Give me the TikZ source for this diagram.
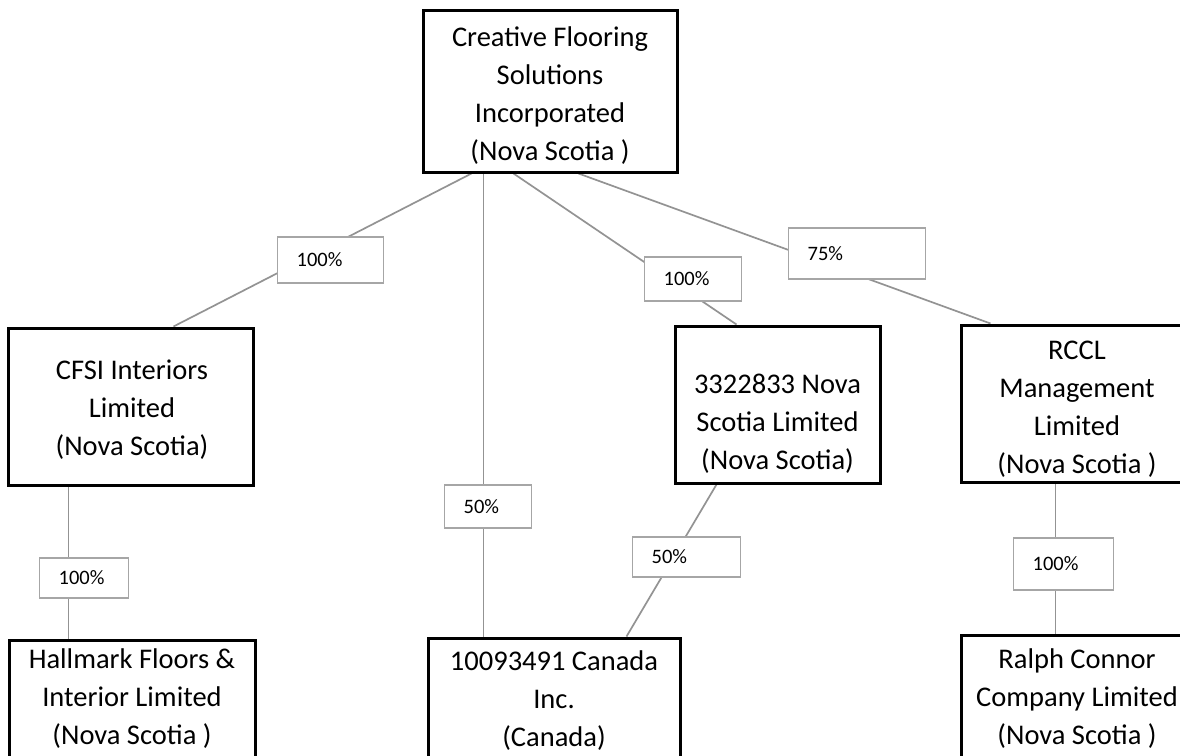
\documentclass[tikz,border=0pt]{standalone}
\usepackage{fontspec}
\setmainfont{Carlito}
\usetikzlibrary{calc,backgrounds}
\begin{document}
\begin{tikzpicture}[x=1pt,y=-1pt,
  box/.style={draw=black, line width=3pt, fill=white, rectangle, inner sep=0pt},
  txt/.style={align=center, inner sep=0pt, font=\fontsize{28.5}{38}\selectfont},
  lbl/.style={draw=gray!70, line width=1.3pt, fill=white, rectangle, inner xsep=19pt, inner ysep=0pt, align=left, anchor=west, font=\fontsize{20.5}{24}\selectfont},
  conn/.style={draw=gray!85, line width=1.7pt}
]
\useasboundingbox (0,0) rectangle (1180,755);
% company boxes
\node[box, minimum width=254pt, minimum height=162pt] (top) at (550,91) {};
\node[txt] (top-t) at (550,96) {Creative Flooring\\Solutions\\Incorporated\\(Nova Scotia )};
\node[box, minimum width=245pt, minimum height=157pt] (cfsi) at (130.5,406.5) {};
\node[txt] (cfsi-t) at (132,410) {CFSI Interiors\\Limited\\(Nova Scotia)};
\node[box, minimum width=205pt, minimum height=157pt] (ns) at (777.5,404.5) {};
\node[txt] (ns-t) at (777.5,424) {3322833 Nova\\Scotia Limited\\(Nova Scotia)};
\node[box, minimum width=280pt, minimum height=157pt] (rccl) at (1101,403.5) {};
\node[txt] (rccl-t) at (1077,409) {RCCL\\Management\\Limited\\(Nova Scotia )};
\node[box, minimum width=246pt, minimum height=120pt] (hall) at (132,700) {};
\node[txt] (hall-t) at (132,699) {Hallmark Floors \&\\Interior Limited\\(Nova Scotia )};
\node[box, minimum width=252pt, minimum height=122pt] (can) at (554,699) {};
\node[txt] (can-t) at (554,701) {10093491 Canada\\Inc.\\(Canada)};
\node[box, minimum width=280pt, minimum height=126pt] (ralph) at (1101,698) {};
\node[txt] (ralph-t) at (1077,699) {Ralph Connor\\Company Limited\\(Nova Scotia )};
% ownership labels
\node[lbl, text width=68pt, minimum height=46pt] (l1) at (277,260) {100\%};
\node[lbl, text width=59pt, minimum height=44pt] (l2) at (644,279) {100\%};
\node[lbl, text width=99pt, minimum height=51pt] (l3) at (788,253.5) {75\%};
\node[lbl, text width=49pt, minimum height=43pt] (l4) at (444,506.5) {50\%};
\node[lbl, text width=70pt, minimum height=40pt] (l5) at (632,557) {50\%};
\node[lbl, text width=51pt, minimum height=40pt] (l6) at (39,578) {100\%};
\node[lbl, text width=62pt, minimum height=52pt] (l7) at (1013,564) {100\%};
% connectors
\begin{scope}[on background layer]
\draw[conn] ($(top.south west)+(50,0)$) -- ($(cfsi.north west)+(167,0)$);
\draw[conn] ($(top.south west)+(62,0)$) -- ($(can.north west)+(57,0)$);
\draw[conn] ($(top.south west)+(92,0)$) -- ($(ns.north west)+(63,0)$);
\draw[conn] ($(top.south west)+(157,0)$) -- ($(rccl.north west)+(31,0)$);
\draw[conn] ($(cfsi.south west)+(62,0)$) -- ($(hall.north west)+(61,0)$);
\draw[conn] ($(ns.south west)+(43,0)$) -- ($(can.north west)+(200,0)$);
\draw[conn] ($(rccl.south west)+(96,0)$) -- ($(ralph.north west)+(96,0)$);
\end{scope}
\end{tikzpicture}
\end{document}
